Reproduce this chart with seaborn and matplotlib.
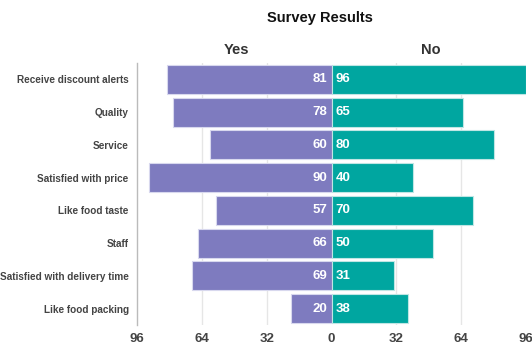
import matplotlib
matplotlib.use("Agg")
import matplotlib.pyplot as plt
import seaborn as sns
import pandas as pd

# data
questions = ["Receive discount alerts", "Quality", "Service", "Satisfied with price",
             "Like food taste", "Staff", "Satisfied with delivery time", "Like food packing"]
yes_values = [81, 78, 60, 90, 57, 66, 69, 20]
no_values = [96, 65, 80, 40, 70, 50, 31, 38]
x_ticks = [-96, -64, -32, 0, 32, 64, 96]

sns.set_style("white")
plt.rcParams['font.family'] = ['Liberation Sans', 'DejaVu Sans']

df = pd.DataFrame({"question": questions,
                   "yes": [-v for v in yes_values],
                   "no": no_values})

fig = plt.figure(figsize=(5.32, 3.55), dpi=100)
ax = fig.add_axes([137 / 532, 30 / 355, (526 - 137) / 532, (325 - 63) / 355])

purple = "#7e7bbf"
teal = "#00a6a0"

sns.barplot(data=df, y="question", x="yes", color=purple, orient="h", width=0.88,
            edgecolor="#d8d8ee", linewidth=0.8, saturation=1, ax=ax)
sns.barplot(data=df, y="question", x="no", color=teal, orient="h", width=0.88,
            edgecolor="#bfe6e4", linewidth=0.8, saturation=1, ax=ax)

# value labels inside the bars
for i, (y, n) in enumerate(zip(yes_values, no_values)):
    ax.text(-2, i, str(y), ha="right", va="center", color="white", fontsize=9.5, fontweight="bold")
    ax.text(2, i, str(n), ha="left", va="center", color="white", fontsize=9.5, fontweight="bold")

ax.set_xlim(-96, 96)
ax.set_xticks(x_ticks)
ax.set_xticklabels([str(abs(t)) for t in x_ticks], fontsize=9.5, fontweight="bold", color="#444444")
ax.set_yticks(range(len(questions)))
ax.set_yticklabels(questions, fontsize=7.2, fontweight="bold", color="#444444")
ax.tick_params(axis="y", length=4, color="#cccccc", pad=2)
ax.tick_params(axis="x", length=0, pad=6)
ax.set_xlabel("")
ax.set_ylabel("")

for t in [-64, -32, 32, 64]:
    ax.axvline(t, color="#e6e6e6", lw=1, zorder=0)
ax.set_axisbelow(True)

for s in ["top", "right", "bottom"]:
    ax.spines[s].set_visible(False)
ax.spines["left"].set_color("#bbbbbb")
ax.spines["left"].set_linewidth(1)

fig.text(320 / 532, 1 - 18 / 355, "Survey Results", ha="center", va="center",
         fontsize=10.5, fontweight="bold", color="#111111")
fig.text(236 / 532, 1 - 50 / 355, "Yes", ha="center", va="center",
         fontsize=10.5, fontweight="bold", color="#333333")
fig.text(431 / 532, 1 - 50 / 355, "No", ha="center", va="center",
         fontsize=10.5, fontweight="bold", color="#333333")

fig.savefig("out.png", dpi=100)
